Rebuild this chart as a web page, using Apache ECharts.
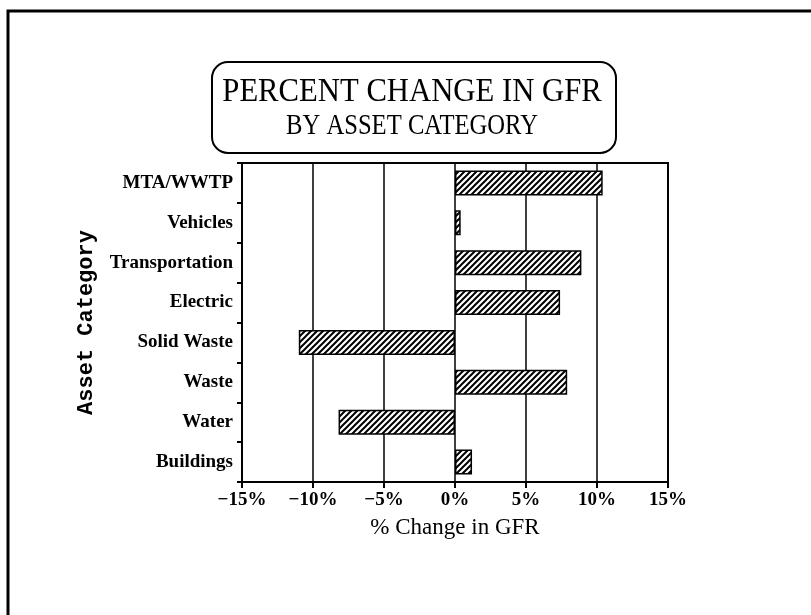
<!DOCTYPE html>
<html>
<head>
<meta charset="utf-8">
<title>Percent Change in GFR</title>
<script src="https://cdn.jsdelivr.net/npm/echarts@6/dist/echarts.min.js"></script>
<style>
  html, body { margin: 0; padding: 0; background: #fff; }
  #chart { width: 811px; height: 615px; }
</style>
</head>
<body>
<div id="chart"></div>
<script>
// categories, top to bottom as printed
var categories = ['MTA/WWTP', 'Vehicles', 'Transportation', 'Electric',
                  'Solid Waste', 'Waste', 'Water', 'Buildings'];
// % change in GFR
var changes = [10.4, 0.4, 8.9, 7.4, -11.0, 7.9, -8.2, 1.2];
var xTicks = [-15, -10, -5, 0, 5, 10, 15];

// diagonal hatch tile (///)
function hatchPattern() {
    var s = 6;
    var c = document.createElement('canvas');
    c.width = s; c.height = s;
    var ctx = c.getContext('2d');
    ctx.fillStyle = '#fff';
    ctx.fillRect(0, 0, s, s);
    ctx.strokeStyle = '#000';
    ctx.lineWidth = 2;
    ctx.beginPath();
    ctx.moveTo(-1, s + 1); ctx.lineTo(s + 1, -1);
    ctx.moveTo(-1, 1); ctx.lineTo(1, -1);
    ctx.moveTo(s - 1, s + 1); ctx.lineTo(s + 1, s - 1);
    ctx.stroke();
    return c;
}

var myChart = echarts.init(document.getElementById('chart'));

var serif = '"Liberation Serif", "Times New Roman", serif';

myChart.setOption({
    animation: false,
    backgroundColor: '#fff',
    grid: {
        left: 242, right: 143, top: 163, bottom: 133,
        show: true, borderColor: '#000', borderWidth: 2
    },
    xAxis: {
        type: 'value',
        min: xTicks[0],
        max: xTicks[xTicks.length - 1],
        interval: 5,
        axisLine: { show: true, onZero: false, lineStyle: { color: '#000', width: 2 } },
        axisTick: { show: true, length: 6, lineStyle: { color: '#000', width: 2 } },
        splitLine: { show: true, lineStyle: { color: '#000', width: 1.5 } },
        axisLabel: {
            color: '#000', fontFamily: serif, fontWeight: 'bold', fontSize: 19, margin: 9,
            formatter: function (v) { return (v < 0 ? '\u2212' + (-v) : v) + '%'; }
        },
        name: '% Change in GFR',
        nameLocation: 'middle',
        nameGap: 34,
        nameTextStyle: { color: '#000', fontFamily: serif, fontSize: 23 }
    },
    yAxis: {
        type: 'category',
        inverse: true,
        data: categories,
        axisLine: { show: true, onZero: false, lineStyle: { color: '#000', width: 2 } },
        axisTick: { show: true, length: 5, lineStyle: { color: '#000', width: 2 } },
        splitLine: { show: false },
        axisLabel: { color: '#000', fontFamily: serif, fontWeight: 'bold', fontSize: 19, margin: 9 },
        name: 'Asset Category',
        nameLocation: 'middle',
        nameRotate: 90,
        nameGap: 145,
        nameTextStyle: { color: '#000', fontFamily: '"Liberation Mono", monospace', fontWeight: 'bold', fontSize: 22 }
    },
    series: [{
        type: 'bar',
        data: changes,
        barWidth: 25,
        itemStyle: {
            color: { image: hatchPattern(), repeat: 'repeat' },
            borderColor: '#000',
            borderWidth: 1.5
        }
    }],
    graphic: [
        // outer frame (only top and left edges show in the scan)
        { type: 'polyline', shape: { points: [[8, 615], [8, 11], [811, 11]] },
          style: { stroke: '#000', lineWidth: 3, fill: null } },
        // title box
        { type: 'rect', shape: { x: 212, y: 62, width: 404, height: 91, r: 16 },
          style: { stroke: '#000', lineWidth: 2, fill: '#fff' } },
        { type: 'text', x: 412, y: 92, scaleX: 0.93,
          style: { text: 'PERCENT CHANGE IN GFR', font: '33px ' + serif,
                   fill: '#000', align: 'center', verticalAlign: 'middle' } },
        { type: 'text', x: 412, y: 126, scaleX: 0.85,
          style: { text: 'BY ASSET CATEGORY', font: '29px ' + serif,
                   fill: '#000', align: 'center', verticalAlign: 'middle' } }
    ]
});
</script>
</body>
</html>
